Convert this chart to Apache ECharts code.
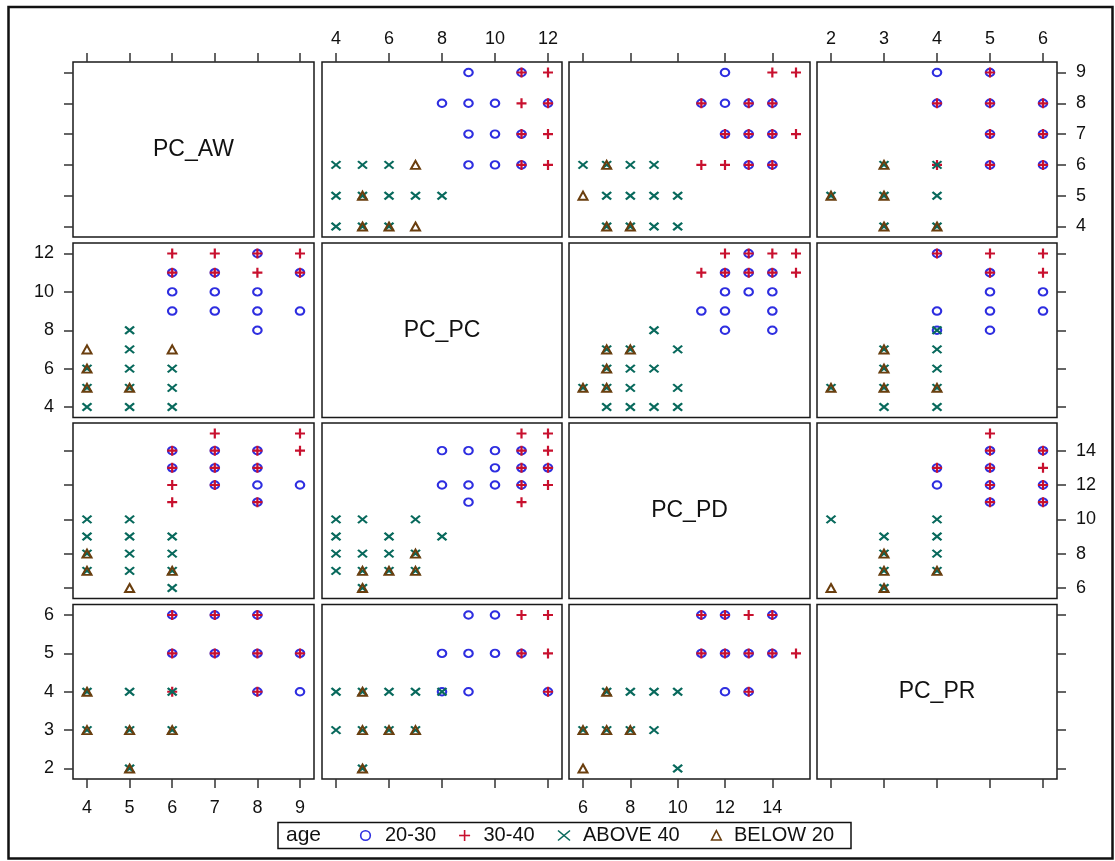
<!DOCTYPE html>
<html>
<head>
<meta charset="utf-8">
<script src="https://cdn.jsdelivr.net/npm/echarts@6/dist/echarts.min.js"></script>
<style>
  html, body { margin: 0; padding: 0; background: #ffffff; }
  #chart { width: 1115px; height: 861px; }
</style>
</head>
<body>
<div id="chart"></div>
<script>
// Variables of the matrix, in row / column order
const variables = ['PC_AW', 'PC_PC', 'PC_PD', 'PC_PR'];
const dataMin = [4, 4, 6, 2];
const dataMax = [9, 12, 15, 6];
const tickValues = [
  [4, 5, 6, 7, 8, 9],
  [4, 6, 8, 10, 12],
  [6, 8, 10, 12, 14],
  [2, 3, 4, 5, 6]
];
const groups = ['20-30', '30-40', 'ABOVE 40', 'BELOW 20'];

// Observed value pairs [first variable, second variable] for each age group
const AW_PC_20_30 = [[6,9],[6,10],[6,11],[7,9],[7,10],[7,11],[8,8],[8,9],[8,10],[8,12],[9,9],[9,11]];
const AW_PC_30_40 = [[6,11],[6,12],[7,11],[7,12],[8,11],[8,12],[9,11],[9,12]];
const AW_PC_ABOVE40 = [[4,4],[4,5],[4,6],[5,4],[5,5],[5,6],[5,7],[5,8],[6,4],[6,5],[6,6]];
const AW_PC_BELOW20 = [[4,5],[4,6],[4,7],[5,5],[6,7]];

const AW_PD_20_30 = [[6,13],[6,14],[7,12],[7,13],[7,14],[8,11],[8,12],[8,13],[8,14],[9,12]];
const AW_PD_30_40 = [[6,11],[6,12],[6,13],[6,14],[7,12],[7,13],[7,14],[7,15],[8,11],[8,13],[8,14],[9,14],[9,15]];
const AW_PD_ABOVE40 = [[4,7],[4,8],[4,9],[4,10],[5,7],[5,8],[5,9],[5,10],[6,6],[6,7],[6,8],[6,9]];
const AW_PD_BELOW20 = [[4,7],[4,8],[5,6],[6,7]];

const AW_PR_20_30 = [[6,5],[6,6],[7,5],[7,6],[8,4],[8,5],[8,6],[9,4],[9,5]];
const AW_PR_30_40 = [[6,4],[6,5],[6,6],[7,5],[7,6],[8,4],[8,5],[8,6],[9,5]];
const AW_PR_ABOVE40 = [[4,3],[4,4],[5,2],[5,3],[5,4],[6,3],[6,4]];
const AW_PR_BELOW20 = [[4,3],[4,4],[5,2],[5,3],[6,3]];

const PC_PD_20_30 = [[8,12],[8,14],[9,11],[9,12],[9,14],[10,12],[10,13],[10,14],[11,12],[11,13],[11,14],[12,13]];
const PC_PD_30_40 = [[11,11],[11,12],[11,13],[11,14],[11,15],[12,12],[12,13],[12,14],[12,15]];
const PC_PD_ABOVE40 = [[4,7],[4,8],[4,9],[4,10],[5,6],[5,7],[5,8],[5,10],[6,7],[6,8],[6,9],[7,7],[7,8],[7,10],[8,9]];
const PC_PD_BELOW20 = [[5,6],[5,7],[6,7],[7,7],[7,8]];

const PC_PR_20_30 = [[8,4],[8,5],[9,4],[9,5],[9,6],[10,5],[10,6],[11,5],[12,4]];
const PC_PR_30_40 = [[11,5],[11,6],[12,4],[12,5],[12,6]];
const PC_PR_ABOVE40 = [[4,3],[4,4],[5,2],[5,3],[5,4],[6,3],[6,4],[7,3],[7,4],[8,4]];
const PC_PR_BELOW20 = [[5,2],[5,3],[5,4],[6,3],[7,3]];

const PD_PR_20_30 = [[11,5],[11,6],[12,4],[12,5],[12,6],[13,4],[13,5],[14,5],[14,6]];
const PD_PR_30_40 = [[11,5],[11,6],[12,5],[12,6],[13,4],[13,5],[13,6],[14,5],[14,6],[15,5]];
const PD_PR_ABOVE40 = [[6,3],[7,3],[7,4],[8,3],[8,4],[9,3],[9,4],[10,2],[10,4]];
const PD_PR_BELOW20 = [[6,2],[6,3],[7,3],[7,4],[8,3]];

// Pair table: variable indices (i < j) and the four group lists
const pairs = [
  { i: 0, j: 1, sets: [AW_PC_20_30, AW_PC_30_40, AW_PC_ABOVE40, AW_PC_BELOW20] },
  { i: 0, j: 2, sets: [AW_PD_20_30, AW_PD_30_40, AW_PD_ABOVE40, AW_PD_BELOW20] },
  { i: 0, j: 3, sets: [AW_PR_20_30, AW_PR_30_40, AW_PR_ABOVE40, AW_PR_BELOW20] },
  { i: 1, j: 2, sets: [PC_PD_20_30, PC_PD_30_40, PC_PD_ABOVE40, PC_PD_BELOW20] },
  { i: 1, j: 3, sets: [PC_PR_20_30, PC_PR_30_40, PC_PR_ABOVE40, PC_PR_BELOW20] },
  { i: 2, j: 3, sets: [PD_PR_20_30, PD_PR_30_40, PD_PR_ABOVE40, PD_PR_BELOW20] }
];

// ---- styling ----
const FONT = "'Liberation Sans', Arial, sans-serif";
const INK = '#111111';
const groupStyle = [
  { symbol: 'circle', size: [8.5, 7.5], color: '#2e2ee0', width: 2 },
  { symbol: 'path://M0,5L10,5M5,0L5,10', size: [10, 10], color: '#c8102e', width: 2.2 },
  { symbol: 'path://M0,0L10,10M0,10L10,0', size: [9, 7.5], color: '#08695c', width: 2.1 },
  { symbol: 'triangle', size: [9, 8], color: '#6a3e0e', width: 2 }
];

// Panel boxes (pixels)
const colLeft = [73, 322, 569, 817];
const colRight = [314, 562, 810, 1057];
const rowTop = [62, 243, 423, 604.5];
const rowBottom = [237, 417.5, 598.5, 779];
const padX = 14, padY = 10.5;

function paddedRange(k, px, pad) {
  const lo = dataMin[k], hi = dataMax[k];
  const per = (hi - lo) / (px - 2 * pad);
  return [lo - pad * per, hi + pad * per];
}

const grid = [], xAxis = [], yAxis = [], series = [];
const tickStyle = { color: '#333333', width: 1.5 };
const labelStyle = { fontSize: 18, fontFamily: FONT, color: INK };

for (let r = 0; r < 4; r++) {
  for (let c = 0; c < 4; c++) {
    const g = r * 4 + c;
    const w = colRight[c] - colLeft[c];
    const h = rowBottom[r] - rowTop[r];
    grid.push({
      left: colLeft[c], top: rowTop[r], width: w, height: h,
      show: true, borderColor: '#1a1a1a', borderWidth: 1.5, backgroundColor: 'transparent'
    });

    const xr = paddedRange(c, w, padX);
    const showXTicks = (r === 0 || r === 3);
    const showXLabels = (r === 0 && (c === 1 || c === 3)) || (r === 3 && (c === 0 || c === 2));
    xAxis.push({
      gridIndex: g, type: 'value', min: xr[0], max: xr[1],
      position: r === 0 ? 'top' : 'bottom',
      axisLine: { show: false }, splitLine: { show: false },
      axisTick: { show: showXTicks, customValues: tickValues[c], length: 9, lineStyle: tickStyle },
      axisLabel: Object.assign({ show: showXLabels, customValues: tickValues[c], margin: r === 0 ? 14 : 20 }, labelStyle)
    });

    const yr = paddedRange(r, h, padY);
    const showYTicks = (c === 0 || c === 3);
    const showYLabels = (c === 0 && (r === 1 || r === 3)) || (c === 3 && (r === 0 || r === 2));
    yAxis.push({
      gridIndex: g, type: 'value', min: yr[0], max: yr[1],
      position: c === 3 ? 'right' : 'left',
      axisLine: { show: false }, splitLine: { show: false },
      axisTick: { show: showYTicks, customValues: tickValues[r], length: 9, lineStyle: tickStyle },
      axisLabel: Object.assign({ show: showYLabels, customValues: tickValues[r], margin: 19 }, labelStyle)
    });

    if (r === c) continue;
    const lo = Math.min(r, c), hi = Math.max(r, c);
    const pair = pairs.find(p => p.i === lo && p.j === hi);
    // column variable on x, row variable on y
    const swap = (c !== pair.i);
    pair.sets.forEach((pts, k) => {
      const st = groupStyle[k];
      series.push({
        type: 'scatter', name: groups[k], xAxisIndex: g, yAxisIndex: g,
        data: swap ? pts.map(p => [p[1], p[0]]) : pts.map(p => [p[0], p[1]]),
        symbol: st.symbol, symbolSize: st.size,
        itemStyle: { color: 'transparent', borderColor: st.color, borderWidth: st.width, opacity: 1 },
        silent: true, z: 2 + k
      });
    });
  }
}

// Frame, variable names on the diagonal, and the legend box
const graphic = [];
graphic.push({
  type: 'rect', shape: { x: 8.5, y: 7, width: 1104, height: 851.5 },
  style: { fill: 'none', stroke: INK, lineWidth: 2.5 }, silent: true
});
for (let d = 0; d < 4; d++) {
  graphic.push({
    type: 'text',
    x: (colLeft[d] + colRight[d]) / 2, y: (rowTop[d] + rowBottom[d]) / 2,
    style: { text: variables[d], fontSize: 23, fontFamily: FONT, fill: INK,
             textAlign: 'center', textVerticalAlign: 'middle', align: 'center', verticalAlign: 'middle' },
    silent: true
  });
}

const legY = 835.5;
graphic.push({
  type: 'rect', shape: { x: 278, y: 822.5, width: 573, height: 26 },
  style: { fill: '#ffffff', stroke: INK, lineWidth: 1.5 }, silent: true
});
graphic.push({
  type: 'text', x: 286, y: legY,
  style: { text: 'age', fontSize: 21, fontFamily: FONT, fill: INK, textVerticalAlign: 'middle', verticalAlign: 'middle' },
  silent: true
});
const legMarkX = [365.5, 464.6, 564, 716.4];
const legTextX = [385, 483.5, 583, 734];
groups.forEach((name, k) => {
  const st = groupStyle[k];
  const cx = legMarkX[k];
  const stroke = { fill: 'none', stroke: st.color, lineWidth: 1.6 };
  if (k === 0) {
    graphic.push({ type: 'circle', shape: { cx: cx, cy: legY, r: 4.8 }, style: stroke, silent: true });
  } else if (k === 1) {
    graphic.push({ type: 'line', shape: { x1: cx - 5.5, y1: legY, x2: cx + 5.5, y2: legY }, style: stroke, silent: true });
    graphic.push({ type: 'line', shape: { x1: cx, y1: legY - 5.5, x2: cx, y2: legY + 5.5 }, style: stroke, silent: true });
  } else if (k === 2) {
    graphic.push({ type: 'line', shape: { x1: cx - 6, y1: legY - 5, x2: cx + 6, y2: legY + 5 }, style: stroke, silent: true });
    graphic.push({ type: 'line', shape: { x1: cx - 6, y1: legY + 5, x2: cx + 6, y2: legY - 5 }, style: stroke, silent: true });
  } else {
    graphic.push({ type: 'polygon', shape: { points: [[cx, legY - 4.8], [cx - 4.8, legY + 4.5], [cx + 4.8, legY + 4.5]] }, style: stroke, silent: true });
  }
  graphic.push({
    type: 'text', x: legTextX[k], y: legY,
    style: { text: name, fontSize: 20, fontFamily: FONT, fill: INK, textVerticalAlign: 'middle', verticalAlign: 'middle' },
    silent: true
  });
});

const chart = echarts.init(document.getElementById('chart'), null, { renderer: 'canvas' });
chart.setOption({
  animation: false,
  backgroundColor: '#ffffff',
  grid: grid,
  xAxis: xAxis,
  yAxis: yAxis,
  series: series,
  graphic: graphic
});
</script>
</body>
</html>
